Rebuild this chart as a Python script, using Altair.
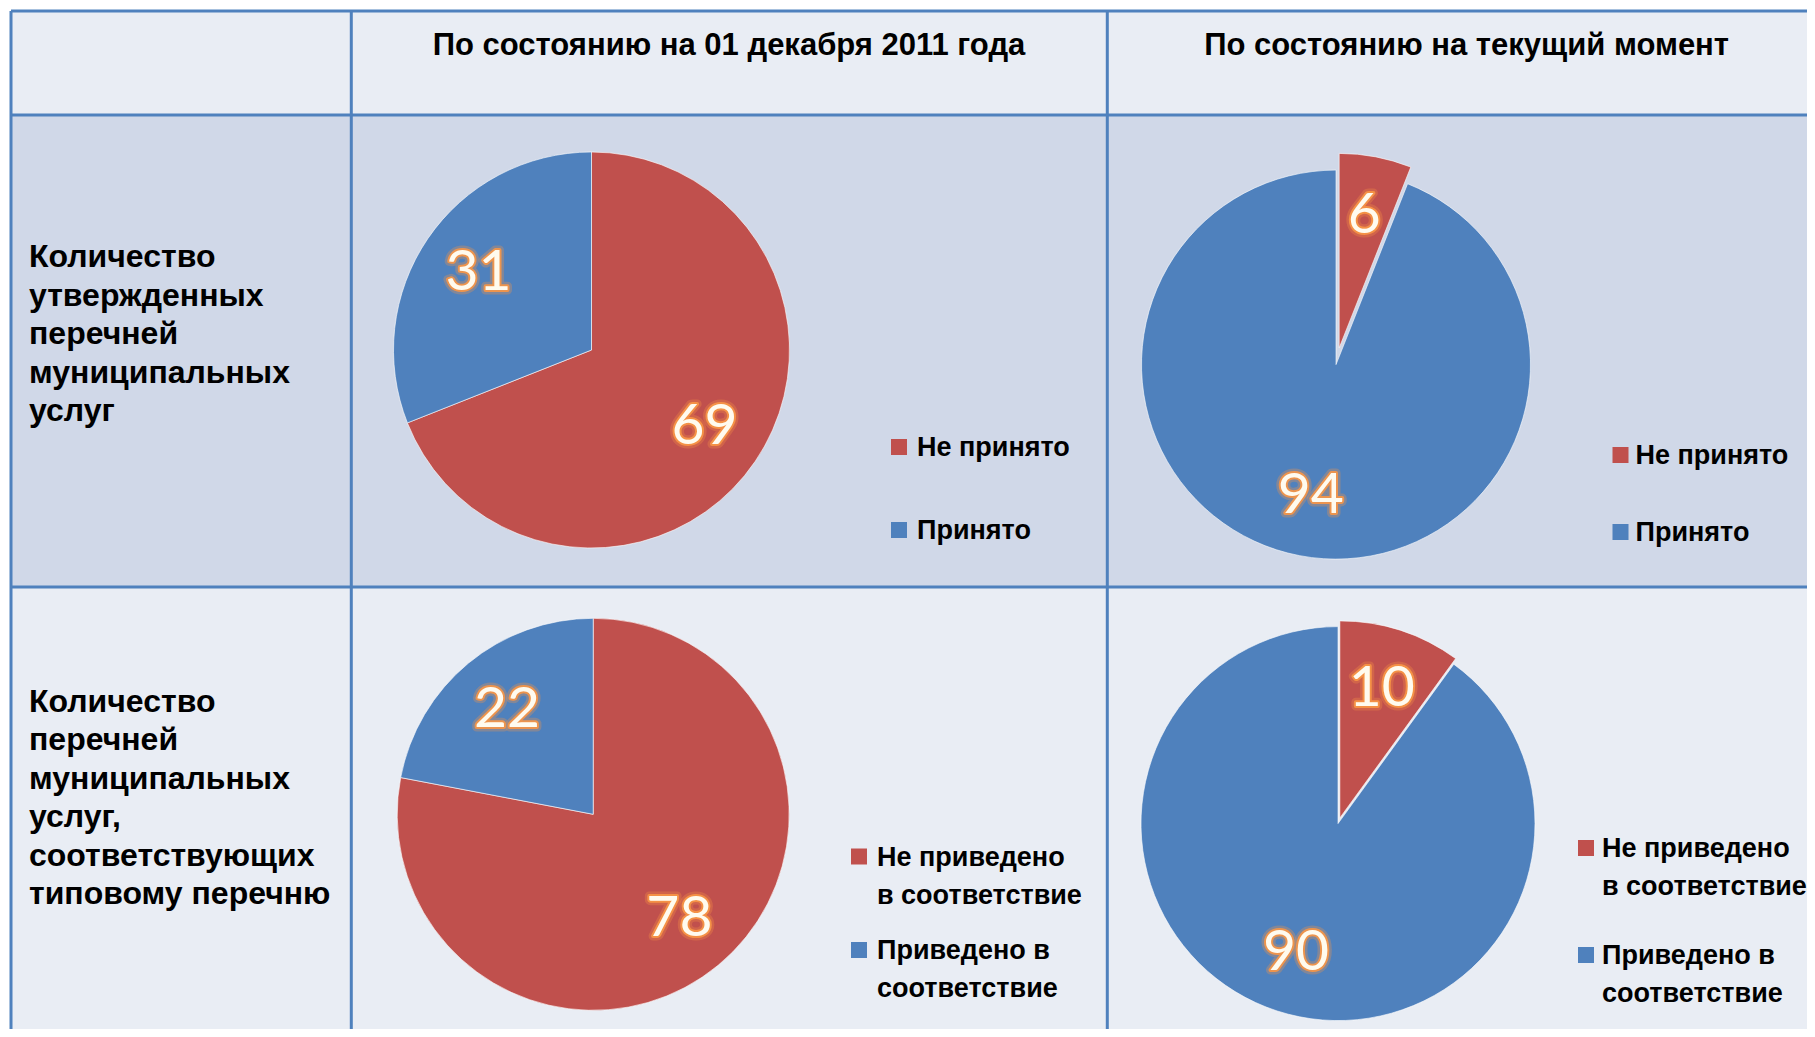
import math
import altair as alt
import pandas as pd

# ---------------- data ----------------
col_titles = ["По состоянию на 01 декабря 2011 года", "По состоянию на текущий момент"]
row1_title = ["Количество", "утвержденных", "перечней", "муниципальных", "услуг"]
row2_title = ["Количество", "перечней", "муниципальных", "услуг,", "соответствующих", "типовому перечню"]

row1_categories = ["Не принято", "Принято"]
row2_categories = ["Не приведено\nв соответствие", "Приведено в\nсоответствие"]

row1_dec2011 = [69, 31]
row1_current = [6, 94]
row2_dec2011 = [78, 22]
row2_current = [10, 90]

# ---------------- style ----------------
W, H = 1799, 1021
SLICE_COLORS = ["#C0504D", "#4F81BD"]
LINE = "#4F81BD"
BG_LIGHT = "#E9EDF4"
BG_DARK = "#D0D8E8"
FONT = "Liberation Sans"
ONE = pd.DataFrame({"a": [0]})


def rect(x0, x1, y0, y1, color):
    return alt.Chart(ONE).mark_rect(color=color).encode(
        x=alt.value(x0), x2=alt.value(x1), y=alt.value(y0), y2=alt.value(y1)
    )


def hline(y, x0, x1):
    return alt.Chart(ONE).mark_rule(color=LINE, strokeWidth=3).encode(
        x=alt.value(x0), x2=alt.value(x1), y=alt.value(y)
    )


def vline(x, y0, y1):
    return alt.Chart(ONE).mark_rule(color=LINE, strokeWidth=3).encode(
        x=alt.value(x), y=alt.value(y0), y2=alt.value(y1)
    )


def label(lines, x, y, align="left", size=32):
    return alt.Chart(ONE).mark_text(
        text=lines, align=align, baseline="alphabetic", font=FONT, fontWeight="bold",
        fontSize=size, lineHeight=38.5, color="#000000",
    ).encode(x=alt.value(x), y=alt.value(y))


theta_scale = alt.Scale(domain=[0, 1], range=[0, 2 * math.pi])
color_enc = alt.Color("order:N", scale=alt.Scale(domain=[0, 1], range=SLICE_COLORS), legend=None)


def pie(cats, vals, cx, cy, r, explode, sq_x, txt_x, leg_y0, leg_step):
    df = pd.DataFrame({"category": cats, "value": vals, "order": list(range(len(cats)))})
    label_r = 0.69 * r
    base = (
        alt.Chart(df)
        .transform_joinaggregate(total="sum(value)")
        .transform_window(cum="sum(value)", sort=[alt.SortField("order")])
        .transform_calculate(
            t1="datum.cum / datum.total",
            t0="(datum.cum - datum.value) / datum.total",
        )
        .transform_calculate(mid="PI * (datum.t0 + datum.t1)")
        .transform_calculate(ex=f"datum.order == 0 ? {explode} : 0")
        .transform_calculate(
            px=f"{cx} + datum.ex * sin(datum.mid)",
            py=f"{cy} - datum.ex * cos(datum.mid)",
        )
        .transform_calculate(
            lx=f"datum.px + {label_r} * sin(datum.mid)",
            ly=f"datum.py - {label_r} * cos(datum.mid)",
            gy=f"{leg_y0} + datum.order * {leg_step}",
        )
        .transform_calculate(gyt="datum.gy + 9")
    )
    X = lambda f: alt.X(f, scale=None, axis=None)
    Y = lambda f: alt.Y(f, scale=None, axis=None)

    arcs = base.mark_arc(radius=r, stroke="#FFFFFF", strokeWidth=1, strokeOpacity=0.6).encode(
        theta=alt.Theta("t0:Q", scale=theta_scale, stack=None),
        theta2="t1:Q",
        x=X("px:Q"),
        y=Y("py:Q"),
        color=color_enc,
    )
    txt_kw = dict(font="Lato", fontSize=57, align="center", baseline="middle")
    glow_outer = base.mark_text(
        stroke="#F79646", strokeWidth=9, strokeOpacity=0.3, strokeJoin="round",
        fill="#F79646", fillOpacity=0.3, **txt_kw
    ).encode(x=X("lx:Q"), y=Y("ly:Q"), text="value:Q")
    glow_inner = base.mark_text(
        stroke="#F79646", strokeWidth=4, strokeOpacity=0.9, strokeJoin="round",
        fill="#F79646", **txt_kw
    ).encode(x=X("lx:Q"), y=Y("ly:Q"), text="value:Q")
    digits = base.mark_text(fill="#FFFBEF", **txt_kw).encode(
        x=X("lx:Q"), y=Y("ly:Q"), text="value:Q"
    )
    squares = base.mark_square(size=256, opacity=1).encode(
        x=alt.value(sq_x), y=Y("gy:Q"), color=color_enc
    )
    leg_text = base.mark_text(
        align="left", baseline="alphabetic", font=FONT, fontWeight="bold", fontSize=27,
        lineBreak="\n", lineHeight=38, color="#000000",
    ).encode(x=alt.value(txt_x), y=Y("gyt:Q"), text="category:N")
    return [arcs, glow_outer, glow_inner, digits, squares, leg_text]


layers = [
    rect(3, W, 3, 107, BG_LIGHT),
    rect(3, W, 107, 579, BG_DARK),
    rect(3, W, 579, H, BG_LIGHT),
    hline(3, 3, W),
    hline(107, 3, W),
    hline(579, 3, W),
    vline(3, 3, H),
    vline(343.3, 3, H),
    vline(1099.3, 3, H),
    label(col_titles[0], 721, 47, align="center", size=31),
    label(col_titles[1], 1458.6, 47, align="center", size=31),
    label(row1_title, 21, 259),
    label(row2_title, 21, 703.5),
]
layers += pie(row1_categories, row1_dec2011, 583.5, 342, 198, 0, 891, 909, 439, 83)
layers += pie(row1_categories, row1_current, 1328, 356.6, 194.5, 17, 1612.5, 1627.5, 447, 77)
layers += pie(row2_categories, row2_dec2011, 585.2, 806.3, 196, 0, 851, 869, 848.5, 93.5)
layers += pie(row2_categories, row2_current, 1330, 815.6, 197, 6, 1578, 1594, 840, 107)

chart = (
    alt.layer(*layers)
    .properties(width=W, height=H, padding=0, autosize=alt.AutoSizeParams(type="none"))
    .configure_view(stroke=None)
)

chart.save("out.html", embed_options={"renderer": "svg", "actions": False})
